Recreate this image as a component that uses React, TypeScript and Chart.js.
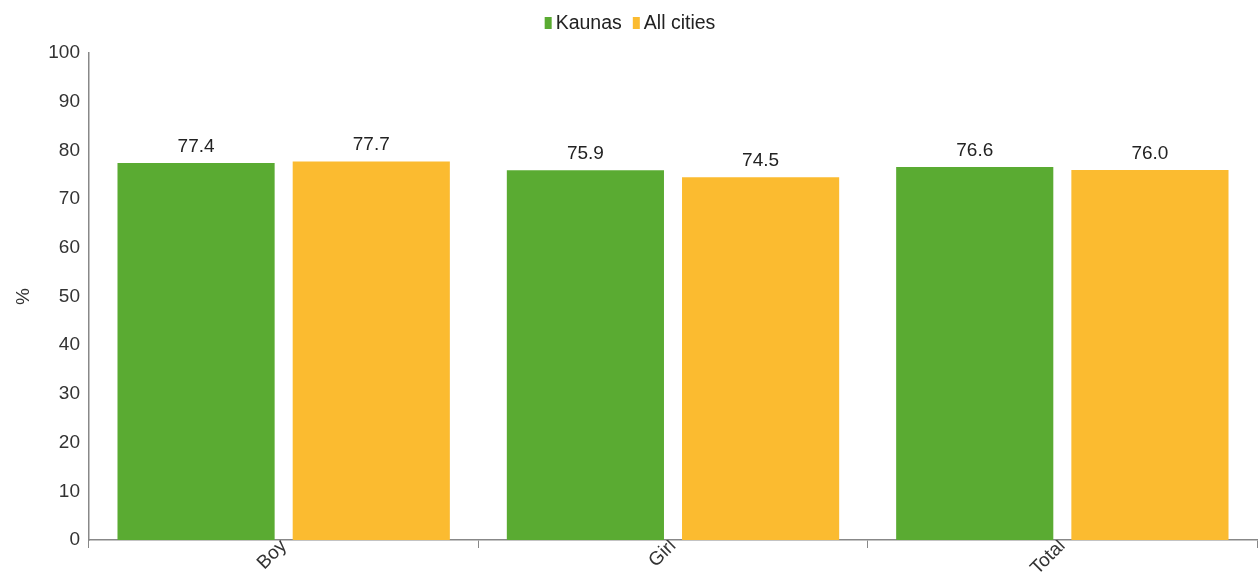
import React, { useEffect, useRef } from "react";
import { Chart, registerables } from "chart.js";

Chart.register(...registerables);

const categories = ["Boy", "Girl", "Total"];
const seriesNames = ["Kaunas", "All cities"];
const kaunasValues = [77.4, 75.9, 76.6];
const allCitiesValues = [77.7, 74.5, 76.0];
const yTicks = [0, 10, 20, 30, 40, 50, 60, 70, 80, 90, 100];

const GREEN = "#5aab32";
const YELLOW = "#fbbb30";
const FONT = "'Liberation Sans', Arial, sans-serif";

const valueLabels = {
  id: "valueLabels",
  afterDatasetsDraw(chart: any) {
    const ctx = chart.ctx;
    ctx.save();
    ctx.font = `19px ${FONT}`;
    ctx.fillStyle = "#222";
    ctx.textAlign = "center";
    ctx.textBaseline = "bottom";
    chart.data.datasets.forEach((ds: any, i: number) => {
      const meta = chart.getDatasetMeta(i);
      meta.data.forEach((bar: any, j: number) => {
        ctx.fillText(Number(ds.data[j]).toFixed(1), bar.x, bar.y - 7);
      });
    });
    ctx.restore();
  },
};

const compactLegend = {
  id: "compactLegend",
  afterDraw(chart: any) {
    const ctx = chart.ctx;
    ctx.save();
    ctx.font = `19.5px ${FONT}`;
    ctx.textBaseline = "middle";
    ctx.textAlign = "left";
    const boxW = 7;
    const boxH = 12;
    const gapBoxText = 4;
    const gapItems = 11;
    const items = chart.data.datasets.map((ds: any) => ({
      text: ds.label,
      color: ds.backgroundColor,
      w: ctx.measureText(ds.label).width,
    }));
    const total = items.reduce((s: number, it: any) => s + boxW + gapBoxText + it.w, 0) + gapItems * (items.length - 1);
    let x = chart.width / 2 - total / 2 + 1;
    const cy = 23;
    items.forEach((it: any) => {
      ctx.fillStyle = it.color;
      ctx.fillRect(x, cy - boxH / 2, boxW, boxH);
      x += boxW + gapBoxText;
      ctx.fillStyle = "#222";
      ctx.fillText(it.text, x, cy + 1);
      x += it.w + gapItems;
    });
    ctx.restore();
  },
};

export default function App() {
  const ref = useRef<HTMLCanvasElement>(null);
  useEffect(() => {
    if (!ref.current) return;
    const chart = new Chart(ref.current, {
      type: "bar",
      data: {
        labels: categories,
        datasets: [
          { label: seriesNames[0], data: kaunasValues, backgroundColor: GREEN },
          { label: seriesNames[1], data: allCitiesValues, backgroundColor: YELLOW },
        ],
      },
      options: {
        animation: false,
        responsive: false,
        maintainAspectRatio: false,
        layout: { padding: { left: 0, right: 1, top: 53, bottom: 0 } },
        datasets: {
          bar: { categoryPercentage: 0.9, barPercentage: 0.897 },
        },
        plugins: {
          legend: { display: false },
          tooltip: { enabled: false },
        },
        scales: {
          x: {
            grid: {
              drawOnChartArea: false,
              offset: true,
              tickLength: 8,
              color: "#888",
            },
            border: { color: "#888", width: 1.5 },
            ticks: {
              font: { family: FONT, size: 19 },
              color: "#333",
              minRotation: 45,
              maxRotation: 45,
              padding: -13,
            },
            afterFit(scale: any) {
              scale.height = 33;
            },
          },
          y: {
            min: 0,
            max: 100,
            afterBuildTicks(scale: any) {
              scale.ticks = yTicks.map((v) => ({ value: v }));
            },
            grid: { display: false, drawTicks: false },
            border: { color: "#888", width: 1.5 },
            ticks: {
              font: { family: FONT, size: 19 },
              color: "#333",
              padding: 9,
            },
            title: {
              display: true,
              text: "%",
              font: { family: FONT, size: 19 },
              color: "#333",
              padding: { top: 12, bottom: 0 },
            },
            afterFit(scale: any) {
              scale.width = 89;
            },
          },
        },
      },
      plugins: [valueLabels, compactLegend],
    });
    return () => chart.destroy();
  }, []);
  return (
    <div style={{ position: "fixed", left: 0, top: 0, width: 1258, height: 573, background: "#fff" }}>
      <canvas ref={ref} width={1258} height={573} style={{ display: "block" }} />
    </div>
  );
}
